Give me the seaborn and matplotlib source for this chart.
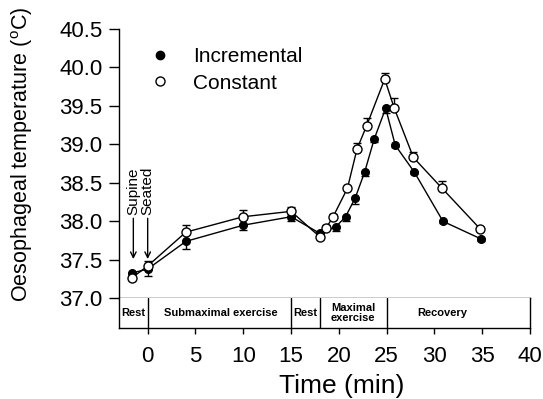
import numpy as np
import pandas as pd
import matplotlib
matplotlib.use("Agg")
import matplotlib.pyplot as plt
import seaborn as sns
from matplotlib.lines import Line2D

# ---- data ----
inc_x = [-1.6, 0, 4, 10, 15, 18, 19.7, 20.7, 21.7, 22.7, 23.7, 24.9, 25.9, 27.9, 30.9, 34.9]
inc_y = [37.33, 37.38, 37.74, 37.95, 38.06, 37.845, 37.93, 38.06, 38.30, 38.64, 39.07, 39.47, 38.99, 38.64, 38.00, 37.77]
inc_err = [0.02, 0.09, 0.10, 0.06, 0.05, 0.03, 0.06, 0.06, 0.07, 0.05, 0.04, 0.06, 0.02, 0.02, 0.02, 0.02]

const_x = [-1.6, 0, 4, 10, 15, 18, 18.7, 19.4, 20.9, 21.9, 22.9, 24.8, 25.8, 27.8, 30.8, 34.8]
const_y = [37.27, 37.42, 37.86, 38.06, 38.13, 37.80, 37.92, 38.06, 38.43, 38.94, 39.24, 39.85, 39.47, 38.83, 38.43, 37.90]
const_err = [0.02, 0.06, 0.09, 0.09, 0.06, 0.02, 0.03, 0.03, 0.03, 0.08, 0.10, 0.08, 0.13, 0.07, 0.10, 0.02]

series_names = ["Incremental", "Constant"]
x_ticks = [0, 5, 10, 15, 20, 25, 30, 35, 40]
y_ticks = [37.0, 37.5, 38.0, 38.5, 39.0, 39.5, 40.0, 40.5]
phase_bounds = [0, 15, 18, 25]
phase_labels = ["Rest", "Submaximal exercise", "Rest", "Maximal\nexercise", "Recovery"]
phase_centers = [-1.5, 7.6, 16.5, 21.5, 30.8]
posture_labels = ["Supine", "Seated"]
posture_x = [-1.5, 0]

sns.set_style("ticks")
plt.rcParams["font.family"] = ["Liberation Sans", "DejaVu Sans"]
plt.rcParams["mathtext.fontset"] = "custom"
plt.rcParams["mathtext.rm"] = "Liberation Sans"
plt.rcParams["text.color"] = "black"
plt.rcParams["axes.labelcolor"] = "black"
plt.rcParams["xtick.color"] = "black"
plt.rcParams["ytick.color"] = "black"

W, H = 543, 399
fig = plt.figure(figsize=(W / 100, H / 100), dpi=100)
L, R = 119 / W, 530 / W
ax = fig.add_axes([L, (H - 298.3) / H, R - L, (298.3 - 29) / H])
ax2 = fig.add_axes([L, (H - 327.7) / H, R - L, (327.7 - 298.3) / H])

df_inc = pd.DataFrame({"t": inc_x, "T": inc_y})
df_con = pd.DataFrame({"t": const_x, "T": const_y})

ax.errorbar(inc_x, inc_y, yerr=[inc_err, [0] * len(inc_err)], fmt="none",
            ecolor="black", elinewidth=1, capsize=3, capthick=1, zorder=1)
ax.errorbar(const_x, const_y, yerr=[[0] * len(const_err), const_err], fmt="none",
            ecolor="black", elinewidth=1, capsize=3, capthick=1, zorder=1)

sns.lineplot(data=df_inc, x="t", y="T", ax=ax, color="black", linewidth=1.0,
             marker="o", markersize=5.5, markerfacecolor="black",
             markeredgecolor="black", markeredgewidth=1, zorder=3)
sns.lineplot(data=df_con, x="t", y="T", ax=ax, color="black", linewidth=1.0,
             marker="o", markersize=6.5, markerfacecolor="white",
             markeredgecolor="black", markeredgewidth=1, zorder=4)

ax.set_xlim(-3, 40)
ax.set_ylim(37.0, 40.5)
ax.set_yticks(y_ticks)
ax.set_yticklabels([f"{v:.1f}" for v in y_ticks], fontsize=16)
ax.set_xticks([])
ax.set_xlabel("")
ax.set_ylabel("")
for s in ["top", "right"]:
    ax.spines[s].set_visible(False)
for s in ["left", "bottom"]:
    ax.spines[s].set_linewidth(1)
    ax.spines[s].set_color("black")
ax.tick_params(axis="y", direction="out", length=7, width=1, pad=5, colors="black")

# posture annotations
for lab, px in zip(posture_labels, posture_x):
    ax.text(px, 38.08, lab, rotation=90, ha="center", va="bottom", fontsize=11)
    ax.annotate("", xy=(px, 37.51), xytext=(px, 38.04),
                arrowprops=dict(arrowstyle="->", color="black", lw=1,
                                mutation_scale=10, shrinkA=0, shrinkB=0))

# legend
handles = [Line2D([], [], linestyle="none", marker="o", markersize=6,
                  markerfacecolor="black", markeredgecolor="black"),
           Line2D([], [], linestyle="none", marker="o", markersize=6.5,
                  markerfacecolor="white", markeredgecolor="black")]
ax.legend(handles, series_names, loc="upper left", frameon=False, fontsize=15,
          handlelength=1.0, handletextpad=1.1, labelspacing=0.35, borderpad=0.4,
          borderaxespad=0, bbox_to_anchor=(141 / W, 1 - 39 / H),
          bbox_transform=fig.transFigure)

# phase bar
ax2.set_xlim(-3, 40)
ax2.set_ylim(0, 1)
ax2.set_yticks([])
ax2.set_xticks(x_ticks)
ax2.set_xticklabels([str(v) for v in x_ticks], fontsize=16)
ax2.tick_params(axis="x", direction="out", length=4, width=1, pad=9, colors="black")
for s in ax2.spines.values():
    s.set_visible(True)
    s.set_linewidth(1)
    s.set_color("black")
ax2.spines["top"].set_visible(False)
for b in phase_bounds:
    ax2.axvline(b, color="black", lw=1)
for lab, cx in zip(phase_labels, phase_centers):
    ax2.text(cx, 0.5, lab, ha="center", va="center", fontsize=8,
             fontweight="bold", linespacing=1.0, color="black")

fig.text(342 / W, 1 - 386 / H, "Time (min)", ha="center", va="center",
         fontsize=19)
fig.text(22 / W, 1 - 154 / H, r"Oesophageal temperature ($^{\mathrm{o}}$C)",
         rotation=90, ha="center", va="center", fontsize=15.5)

fig.savefig("out.png", dpi=100)
